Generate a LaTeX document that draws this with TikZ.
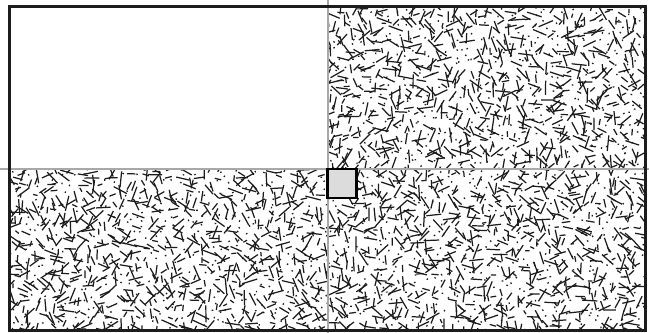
\documentclass[tikz,border=0pt]{standalone}
\usepackage{tikz}
\usetikzlibrary{calc}
\definecolor{cK}{HTML}{1c1c1c}
\definecolor{cG}{HTML}{a8a8a8}
\definecolor{cS}{HTML}{dcdcdc}
\tikzset{
  frame/.style={draw=cK,line width=2pt},
  guide/.style={draw=cG,line width=0.7pt},
  grain/.style={cK,line width=0.7pt},
  peg/.style={draw=black,line width=1.2pt,fill=cS},
}
\begin{document}
\begin{tikzpicture}[x=0.02cm,y=-0.02cm]
  \useasboundingbox (0,0) rectangle (649,333);
  \pgfmathsetseed{4217}
  % textured quarters
  \foreach \xo/\yo in {328/7,10/169,328/169}{
    \begin{scope}
      \clip (\xo,\yo) rectangle ++(318,162);
      \foreach \i in {0,...,45}{
        \foreach \j in {0,...,23}{
          \pgfmathsetmacro\px{\xo-4+7*\i+rnd*7}
          \pgfmathsetmacro\py{\yo-4+7*\j+rnd*7}
          \pgfmathsetmacro\pa{rnd*180}
          \pgfmathsetmacro\pl{rnd<0.3 ? 1.6 : 4+rnd*12}
          \draw[grain] (\px,\py) -- ++(\pa:\pl);
        }
      }
    \end{scope}
  }
  % guide lines
  \coordinate (vt) at (328,0);
  \coordinate (vb) at (328,333);
  \coordinate (hl) at (0,169);
  \coordinate (hr) at (649,169);
  \draw[guide] (vt) -- (vb);
  \draw[guide] (hl) -- (hr);
  % outer frame
  \draw[frame] (9.5,6.5) rectangle (645.5,330.5);
  % centre block
  \draw[peg] (327.5,169) rectangle (356.5,198);
\end{tikzpicture}
\end{document}
